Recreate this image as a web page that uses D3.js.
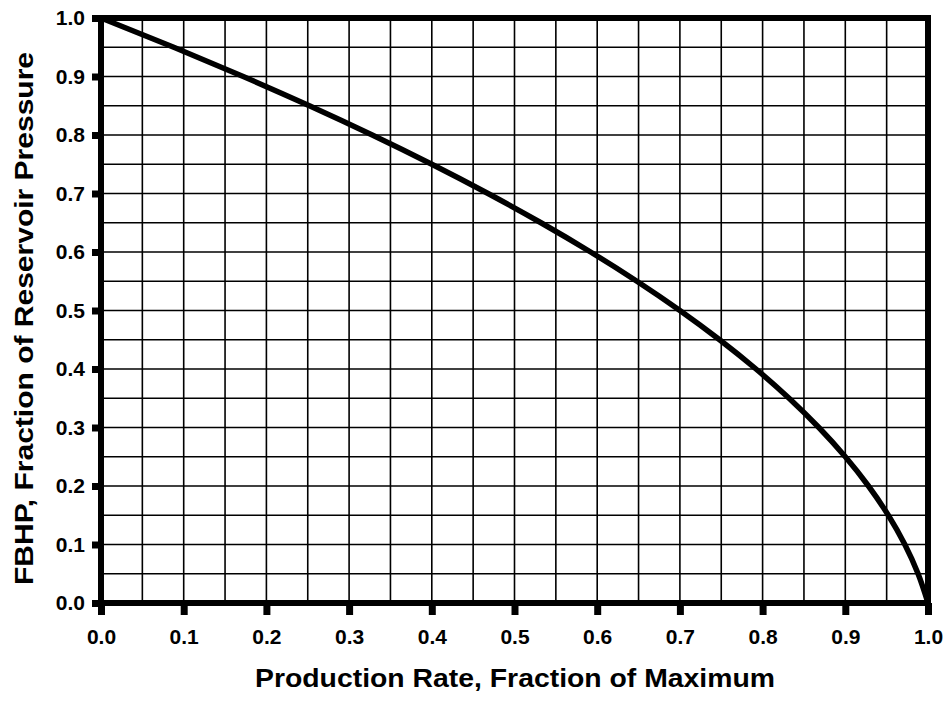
<!DOCTYPE html>
<html>
<head>
<meta charset="utf-8">
<script src="https://cdn.jsdelivr.net/npm/d3@7"></script>
<style>
  body { margin: 0; background: #fff; }
  text { font-family: "Liberation Sans", Arial, sans-serif; font-weight: bold; fill: #000; }
</style>
</head>
<body>
<div id="chart"></div>
<script>
// curve: rate (x) against pressure fraction (y)
const rateValues = [0, 0.088, 0.172, 0.252, 0.328, 0.40, 0.468, 0.532, 0.592, 0.648, 0.70,
                    0.748, 0.792, 0.832, 0.868, 0.90, 0.928, 0.952, 0.972, 0.988, 1.0];
const pressureValues = [1.0, 0.95, 0.9, 0.85, 0.8, 0.75, 0.7, 0.65, 0.6, 0.55, 0.5,
                        0.45, 0.4, 0.35, 0.3, 0.25, 0.2, 0.15, 0.1, 0.05, 0.0];
const tickLabels = ["0.0", "0.1", "0.2", "0.3", "0.4", "0.5", "0.6", "0.7", "0.8", "0.9", "1.0"];
const gridSteps = [0, 0.05, 0.1, 0.15, 0.2, 0.25, 0.3, 0.35, 0.4, 0.45, 0.5,
                   0.55, 0.6, 0.65, 0.7, 0.75, 0.8, 0.85, 0.9, 0.95, 1.0];

const width = 950, height = 707;
const plotL = 101, plotR = 928, plotT = 18, plotB = 603;

const svg = d3.select("#chart").append("svg")
    .attr("width", width)
    .attr("height", height);

const x = d3.scaleLinear().domain([0, 1]).range([plotL, plotR]);
const y = d3.scaleLinear().domain([0, 1]).range([plotB, plotT]);

// grid
svg.append("g").selectAll("line")
    .data(gridSteps)
    .enter().append("line")
    .attr("x1", d => x(d)).attr("x2", d => x(d))
    .attr("y1", plotT).attr("y2", plotB)
    .attr("stroke", "#000").attr("stroke-width", 1.6);

svg.append("g").selectAll("line")
    .data(gridSteps)
    .enter().append("line")
    .attr("x1", plotL).attr("x2", plotR)
    .attr("y1", d => y(d)).attr("y2", d => y(d))
    .attr("stroke", "#000").attr("stroke-width", 1.6);

// axes (labels + little stubs)
const tickVals = tickLabels.map(Number);

const xAxis = svg.append("g")
    .attr("transform", `translate(0,${plotB})`)
    .call(d3.axisBottom(x).tickValues(tickVals).tickFormat((d, i) => tickLabels[i])
        .tickSize(12).tickPadding(14));
xAxis.select(".domain").remove();
xAxis.selectAll("line").attr("stroke-width", 7);

const yAxis = svg.append("g")
    .attr("transform", `translate(${plotL},0)`)
    .call(d3.axisLeft(y).tickValues(tickVals).tickFormat((d, i) => tickLabels[i])
        .tickSize(9).tickPadding(7));
yAxis.select(".domain").remove();
yAxis.selectAll("line").attr("stroke-width", 7);

svg.selectAll(".tick text")
    .attr("font-family", null)
    .style("font-size", "21px");

// frame
svg.append("rect")
    .attr("x", plotL).attr("y", plotT)
    .attr("width", plotR - plotL).attr("height", plotB - plotT)
    .attr("fill", "none").attr("stroke", "#000").attr("stroke-width", 6);

// curve
const points = rateValues.map((r, i) => [r, pressureValues[i]]);
svg.append("path")
    .datum(points)
    .attr("fill", "none")
    .attr("stroke", "#000")
    .attr("stroke-width", 5.5)
    .attr("d", d3.line().x(d => x(d[0])).y(d => y(d[1])).curve(d3.curveMonotoneY));

// titles
svg.append("text")
    .attr("x", 255)
    .attr("y", 687)
    .attr("textLength", 520)
    .attr("lengthAdjust", "spacingAndGlyphs")
    .style("font-size", "26px")
    .text("Production Rate, Fraction of Maximum");

svg.append("text")
    .attr("transform", `translate(33,585) rotate(-90)`)
    .attr("textLength", 533)
    .attr("lengthAdjust", "spacingAndGlyphs")
    .style("font-size", "26px")
    .text("FBHP, Fraction of Reservoir Pressure");
</script>
</body>
</html>
